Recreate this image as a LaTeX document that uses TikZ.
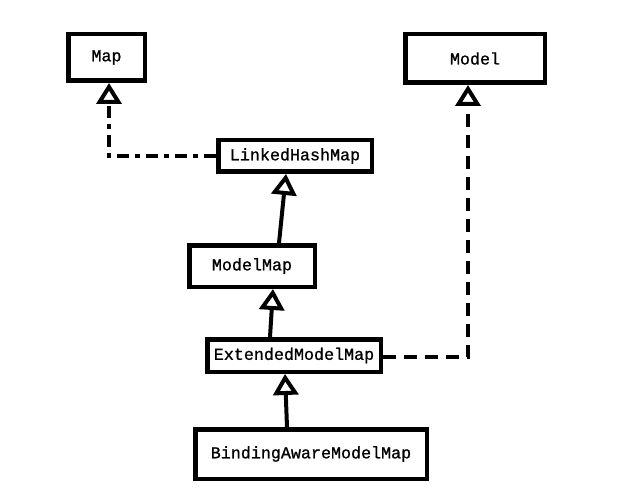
\documentclass[tikz,border=0pt]{standalone}
\usepackage{fontspec}
\newfontfamily\boxfont[FakeBold=1]{Liberation Mono}
\usetikzlibrary{arrows.meta}
\tikzset{
  cls/.style={draw, line width=4.5pt, inner sep=0pt, font=\boxfont\fontsize{16.7}{19}\selectfont},
  inherit/.style={line width=4pt, -{Triangle[open, length=21pt, width=25pt, line width=4pt]}},
  realize/.style={inherit, dash pattern=on 13pt off 8pt},
  realizedot/.style={inherit, dash pattern=on 12pt off 6pt on 5pt off 6pt}
}
\begin{document}
\begin{tikzpicture}[x=1pt,y=1pt]
\useasboundingbox (0,0) rectangle (623,-497);
\node[cls, minimum width=76.5pt, minimum height=46.5pt] (map) at (106.5,-57.5) {Map};
\node[cls, minimum width=139.5pt, minimum height=48.5pt] (model) at (475,-58.5) {Model};
\node[cls, minimum width=153.5pt, minimum height=31.5pt] (lhm) at (295,-156) {LinkedHashMap};
\node[cls, minimum width=125.5pt, minimum height=41.5pt] (mm) at (252,-266) {ModelMap};
\node[cls, minimum width=173.5pt, minimum height=32.5pt] (emm) at (294,-355.5) {ExtendedModelMap};
\node[cls, minimum width=231.5pt, minimum height=49.5pt] (bamm) at (311,-454) {BindingAwareModelMap};
\draw[realizedot] (lhm.west) -| ([xshift=2.5pt]map.south);
\draw[inherit] ([xshift=27pt]mm.north) -- ([xshift=-9pt]lhm.south);
\draw[inherit] ([xshift=-24pt]emm.north) -- ([xshift=21pt]mm.south);
\draw[inherit] ([xshift=-24pt]bamm.north) -- ([xshift=-9pt]emm.south);
\draw[realize] ([yshift=-1.5pt]emm.east) -| ([xshift=-7pt]model.south);
\end{tikzpicture}
\end{document}
